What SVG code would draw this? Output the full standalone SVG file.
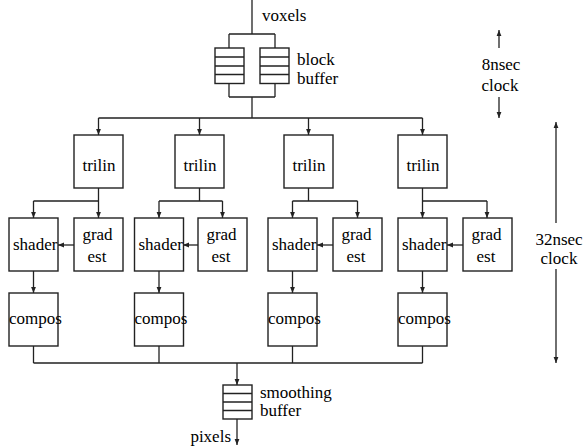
<svg xmlns="http://www.w3.org/2000/svg" width="583" height="447" viewBox="0 0 583 447" font-family="'Liberation Serif', 'DejaVu Serif', serif">
<style>
text{font-family:'Liberation Serif','DejaVu Serif',serif;font-size:17px;fill:#000}
.m{text-anchor:middle}
.box{fill:#fff;stroke:#222;stroke-width:1.4}
.ln{fill:none;stroke:#222;stroke-width:1.3}
.ar{fill:none;stroke:#222;stroke-width:1.3;marker-end:url(#ah)}
</style>
<defs>
<marker id="ah" viewBox="0 0 8 8" refX="8" refY="4" markerWidth="6" markerHeight="6" markerUnits="userSpaceOnUse" orient="auto">
<path d="M0,0.8 L8,4 L0,7.2 Z" fill="#222"/>
</marker>
</defs>
<g id="connectors">
<path class="ln" d="M252,0 V34 M229,34 H275 M229,34 V48 M275,34 V48"/>
<path class="ln" d="M229,84 V97 M275,84 V97 M229,97 H275 M252,97 V118 M98.5,118 H422.5"/>
<path class="ar" d="M98.5,118 V135"/>
<path class="ar" d="M199.5,118 V135"/>
<path class="ar" d="M308.5,118 V135"/>
<path class="ar" d="M422.5,118 V135"/>
<path class="ln" d="M98.5,188 V201 M33.5,201 H98.5"/>
<path class="ar" d="M33.5,201 V218"/>
<path class="ar" d="M98.5,201 V218"/>
<path class="ln" d="M199.5,188 V201 M159,201 H222.5"/>
<path class="ar" d="M159,201 V218"/>
<path class="ar" d="M222.5,201 V218"/>
<path class="ln" d="M308.5,188 V201 M292.5,201 H357.5"/>
<path class="ar" d="M292.5,201 V218"/>
<path class="ar" d="M357.5,201 V218"/>
<path class="ln" d="M422.5,188 V201 M422.5,201 H487"/>
<path class="ar" d="M422.5,201 V218"/>
<path class="ar" d="M487,201 V218"/>
<path class="ar" d="M74,245 H58"/>
<path class="ar" d="M198,245 H183"/>
<path class="ar" d="M333,245 H317"/>
<path class="ar" d="M463,245 H447"/>
<path class="ar" d="M33.5,271 V293"/>
<path class="ar" d="M159,271 V293"/>
<path class="ar" d="M292.5,271 V293"/>
<path class="ar" d="M422.5,271 V293"/>
<path class="ln" d="M33.5,346 V363 M159,346 V363 M292.5,346 V363 M422.5,346 V363 M33.5,363 H422.5"/>
<path class="ar" d="M237,363 V385"/>
<path class="ar" d="M237,419 V445"/>
<path class="ar" d="M499,48 V30"/>
<path class="ar" d="M499,97 V118"/>
<path class="ar" d="M556,223 V122"/>
<path class="ar" d="M556,269 V363"/>
</g>
<g id="block-buffer">
<rect class="box" x="215" y="48" width="29" height="35.5"/>
<path class="ln" d="M215,57 H244 M215,66 H244 M215,74.5 H244"/>
<rect class="box" x="260" y="48" width="29" height="35.5"/>
<path class="ln" d="M260,57 H289 M260,66 H289 M260,74.5 H289"/>
<text x="297" y="65">block</text>
<text x="297" y="84">buffer</text>
</g>
<g id="voxels"><text x="262" y="21">voxels</text></g>
<g id="trilin1"><rect class="box" x="74" y="135" width="49" height="53"/><text class="m" x="99" y="171">trilin</text></g>
<g id="trilin2"><rect class="box" x="175" y="135" width="49" height="53"/><text class="m" x="200" y="171">trilin</text></g>
<g id="trilin3"><rect class="box" x="284" y="135" width="49" height="53"/><text class="m" x="309" y="171">trilin</text></g>
<g id="trilin4"><rect class="box" x="398" y="135" width="49" height="53"/><text class="m" x="423" y="171">trilin</text></g>
<g id="shader1"><rect class="box" x="9" y="218" width="49" height="53"/><text x="13" y="250">shader</text></g>
<g id="shader2"><rect class="box" x="134.5" y="218" width="49" height="53"/><text x="138.5" y="250">shader</text></g>
<g id="shader3"><rect class="box" x="268" y="218" width="49" height="53"/><text x="272" y="250">shader</text></g>
<g id="shader4"><rect class="box" x="398" y="218" width="49" height="53"/><text x="402" y="250">shader</text></g>
<g id="grad1"><rect class="box" x="74" y="218" width="49" height="53"/><text class="m" x="97.5" y="240">grad</text><text class="m" x="97" y="262">est</text></g>
<g id="grad2"><rect class="box" x="198" y="218" width="49" height="53"/><text class="m" x="221.5" y="240">grad</text><text class="m" x="221" y="262">est</text></g>
<g id="grad3"><rect class="box" x="333" y="218" width="49" height="53"/><text class="m" x="356.5" y="240">grad</text><text class="m" x="356" y="262">est</text></g>
<g id="grad4"><rect class="box" x="463" y="218" width="49" height="53"/><text class="m" x="486.5" y="240">grad</text><text class="m" x="486" y="262">est</text></g>
<g id="compos1"><rect class="box" x="9" y="293" width="49" height="53"/><text x="9" y="324">compos</text></g>
<g id="compos2"><rect class="box" x="134.5" y="293" width="49" height="53"/><text x="134.5" y="324">compos</text></g>
<g id="compos3"><rect class="box" x="268" y="293" width="49" height="53"/><text x="268" y="324">compos</text></g>
<g id="compos4"><rect class="box" x="398" y="293" width="49" height="53"/><text x="398" y="324">compos</text></g>
<g id="smoothing-buffer">
<rect class="box" x="223" y="385" width="29" height="34"/>
<path class="ln" d="M223,393.5 H252 M223,402 H252 M223,410.5 H252"/>
<text x="260" y="398">smoothing</text>
<text x="260" y="416">buffer</text>
</g>
<g id="pixels"><text x="231" y="442" text-anchor="end">pixels</text></g>
<g id="clock8"><text class="m" x="501" y="70">8nsec</text><text class="m" x="500" y="91">clock</text></g>
<g id="clock32"><text class="m" x="559" y="245">32nsec</text><text class="m" x="559" y="264">clock</text></g>
</svg>
